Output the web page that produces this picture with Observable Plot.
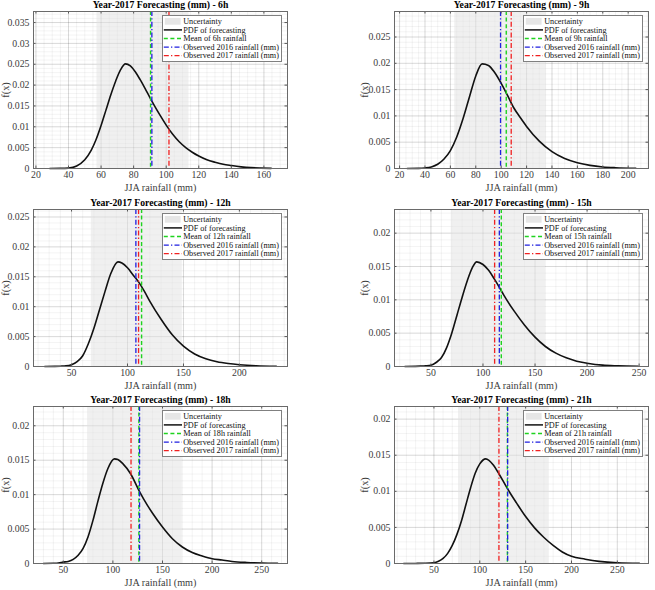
<!DOCTYPE html>
<html>
<head>
<meta charset="utf-8">
<script src="https://cdn.jsdelivr.net/npm/d3@7"></script>
<script src="https://cdn.jsdelivr.net/npm/@observablehq/plot@0.6"></script>
<style>
  html, body { margin: 0; padding: 0; background: #fff; }
  #figure { position: relative; width: 655px; height: 590px; overflow: hidden; background: #fff;
            font-family: "Liberation Serif", "Times New Roman", serif; }
  #figure svg.panel { position: absolute; background: transparent; }
  .legend { position: absolute; background: #fff; border: 1px solid #808080; box-sizing: border-box; }
  .legend svg { display: block; }
</style>
</head>
<body>
<div id="figure"></div>
<script>
// Forecast lead times
const hours = ["6h", "9h", "12h", "15h", "18h", "21h"];

// JJA rainfall (mm) and forecast probability density, one pair per lead time
const rain6h = [28.5, 35, 40, 45, 50, 54, 57, 60, 63, 66, 69, 72, 75, 78, 81, 84, 87, 90, 93, 96, 100, 104, 108, 112, 116, 120, 125, 130, 135, 140, 146, 152, 158, 164.5];
const pdf6h = [0, 0.00002, 0.0001, 0.0006, 0.0021, 0.0044, 0.0070, 0.0103, 0.0140, 0.0177, 0.0210, 0.0237, 0.0251, 0.0246, 0.0232, 0.0213, 0.0192, 0.0170, 0.0149, 0.0129, 0.0104, 0.0082, 0.0064, 0.0050, 0.0039, 0.0030, 0.0021, 0.0015, 0.0010, 0.0007, 0.0004, 0.0002, 0.0001, 0.00004];

const rain9h = [26, 35, 40, 45, 50, 55, 60, 65, 70, 75, 80, 85, 90, 95, 100, 105, 110, 115, 120, 130, 140, 150, 160, 170, 180, 190, 206];
const pdf9h = [0, 0.00002, 0.0001, 0.0003, 0.0008, 0.0018, 0.0034, 0.0060, 0.0095, 0.0136, 0.0176, 0.0199, 0.0196, 0.0182, 0.0162, 0.0139, 0.0115, 0.0097, 0.0080, 0.0052, 0.0032, 0.0019, 0.0011, 0.0006, 0.0003, 0.00015, 0.00004];

const rain12h = [26, 35, 40, 45, 50, 55, 60, 65, 70, 75, 80, 85, 91.5, 95, 100, 105, 110, 115, 120, 130, 140, 150, 160, 170, 180, 190, 200, 215, 233];
const pdf12h = [0, 0.00002, 0.00005, 0.0001, 0.0003, 0.0008, 0.0018, 0.0038, 0.0064, 0.0095, 0.0126, 0.0155, 0.0175, 0.0173, 0.0165, 0.0153, 0.0141, 0.0126, 0.0109, 0.0079, 0.0053, 0.0034, 0.0021, 0.0013, 0.0008, 0.0005, 0.0003, 0.00012, 0.00004];

const rain15h = [25, 35, 40, 45, 50, 55, 60, 65, 70, 75, 80, 85, 90, 94, 100, 105, 111, 116, 120, 130, 140, 150, 160, 170, 180, 190, 200, 215, 230, 249];
const pdf15h = [0, 0.00002, 0.00005, 0.0001, 0.0002, 0.0006, 0.0013, 0.0028, 0.0050, 0.0077, 0.0104, 0.0129, 0.0149, 0.0157, 0.0153, 0.0145, 0.0131, 0.0118, 0.0107, 0.0083, 0.0062, 0.0044, 0.0030, 0.0020, 0.0013, 0.0008, 0.0005, 0.0002, 0.0001, 0.00003];

const rain18h = [30, 40, 45, 50, 55, 60, 65, 70, 75, 80, 85, 90, 95, 101.5, 105, 110, 118, 127, 135, 140, 150, 160, 170, 180, 190, 200, 210, 220, 235, 250, 266];
const pdf18h = [0, 0.00003, 0.00007, 0.0002, 0.0003, 0.0006, 0.0012, 0.0022, 0.0039, 0.0063, 0.0091, 0.0117, 0.0138, 0.0152, 0.0151, 0.0145, 0.0130, 0.0104, 0.0084, 0.0073, 0.0053, 0.0036, 0.0024, 0.0016, 0.0011, 0.0007, 0.0005, 0.0003, 0.00015, 0.00007, 0.00003];

const rain21h = [17, 30, 40, 50, 55, 60, 65, 70, 75, 80, 85, 90, 95, 100, 106.5, 110, 115, 121, 130, 140, 150, 160, 170, 180, 190, 200, 215, 230, 250, 274];
const pdf21h = [0, 0.00001, 0.00003, 0.0001, 0.0003, 0.0007, 0.0014, 0.0025, 0.0040, 0.0059, 0.0082, 0.0105, 0.0125, 0.0138, 0.0145, 0.0143, 0.0136, 0.0124, 0.0104, 0.0084, 0.0065, 0.0049, 0.0036, 0.0025, 0.0016, 0.0010, 0.0006, 0.0003, 0.0001, 0.00003];

// Reference rainfall (mm) for each lead time
const meanRainfall = [90.4, 104, 112.6, 117.6, 126.2, 130.1];
const observed2016 = [91.2, 99.5, 107.5, 115.7, 126.9, 130.4];
const observed2017 = [101.7, 107.9, 109.9, 111.2, 118.3, 120.9];

// Uncertainty interval (mm)
const uncertaintyLow = [57.5, 63.5, 67.7, 69.5, 74.5, 76.8];
const uncertaintyHigh = [114, 135.5, 149, 160, 170, 175.8];

// Tick labels
const xTicks = [
  [20, 40, 60, 80, 100, 120, 140, 160],
  [20, 40, 60, 80, 100, 120, 140, 160, 180, 200],
  [50, 100, 150, 200],
  [50, 100, 150, 200, 250],
  [50, 100, 150, 200, 250],
  [50, 100, 150, 200, 250]
];
const yTicks = [
  [0, 0.005, 0.01, 0.015, 0.02, 0.025, 0.03, 0.035],
  [0, 0.005, 0.01, 0.015, 0.02, 0.025],
  [0, 0.005, 0.01, 0.015, 0.02, 0.025],
  [0, 0.005, 0.01, 0.015, 0.02],
  [0, 0.005, 0.01, 0.015, 0.02],
  [0, 0.005, 0.01, 0.015, 0.02]
];

const rains = [rain6h, rain9h, rain12h, rain15h, rain18h, rain21h];
const pdfs = [pdf6h, pdf9h, pdf12h, pdf15h, pdf18h, pdf21h];

// Layout of the 3 x 2 grid of axes
const W = 254, H = 157;
const M = {top: 14, right: 8, bottom: 26, left: 35};
const colLeft = [33, 394];
const rowTop = [11, 208.5, 406];
const yLabelOffset = [-27.5, -30];   // left column sits against the page edge

const GREEN = "#1fd31f", BLUE = "#1f1fe0", RED = "#f02020";
const DASH = "4,2.6";
const DASHDOT = "5,2.2,1.3,2.2";
const FONT = "Liberation Serif, Times New Roman, serif";

const figure = document.getElementById("figure");

function drawLegend(hour, left, top) {
  const w = 120, h = 47;
  const rows = [
    {label: "Uncertainty", patch: true},
    {label: "PDF of forecasting", stroke: "#111", width: 1.5},
    {label: `Mean of ${hour} rainfall`, stroke: GREEN, dash: DASH, width: 1.3},
    {label: "Observed 2016 rainfall (mm)", stroke: BLUE, dash: DASHDOT, width: 1.3},
    {label: "Observed 2017 rainfall (mm)", stroke: RED, dash: DASHDOT, width: 1.3}
  ];
  const div = document.createElement("div");
  div.className = "legend";
  Object.assign(div.style, {left: left + "px", top: top + "px", width: w + "px", height: h + "px"});
  const svg = d3.create("svg").attr("width", w - 2).attr("height", h - 2);
  rows.forEach((r, i) => {
    const cy = 5.3 + i * 8.6;
    if (r.patch) {
      svg.append("rect").attr("x", 1.8).attr("y", cy - 3.4).attr("width", 15.8).attr("height", 6.8).attr("fill", "#e6e6e6");
    } else {
      svg.append("line").attr("x1", 0.8).attr("x2", 19).attr("y1", cy).attr("y2", cy)
        .attr("stroke", r.stroke).attr("stroke-width", r.width).attr("stroke-dasharray", r.dash || null);
    }
    svg.append("text").attr("x", 20.2).attr("y", cy).attr("dy", "0.34em")
      .attr("font-family", FONT).attr("font-size", 8.2).attr("fill", "#111").text(r.label);
  });
  div.appendChild(svg.node());
  figure.appendChild(div);
}

hours.forEach((hour, i) => {
  const col = i % 2, row = Math.floor(i / 2);
  const left = colLeft[col];
  const top = rowTop[row];
  const xs = rains[i], ys = pdfs[i];
  const points = xs.map((r, j) => ({rain: r, density: ys[j]}));
  const xDomain = [d3.min(xs) - 10, d3.max(xs) + 10];
  const yDomain = [0, d3.max(ys) * 1.5];
  const xt = xTicks[i], yt = yTicks[i];
  const minorStep = (xt[1] - xt[0]) === 20 ? 5 : 10;
  const xMinor = d3.range(Math.ceil(xDomain[0] / minorStep) * minorStep, xDomain[1], minorStep);
  const yMinor = d3.range(0, yDomain[1], 0.001);

  const chart = Plot.plot({
    width: W + M.left + M.right,
    height: H + M.top + M.bottom,
    marginTop: M.top, marginRight: M.right, marginBottom: M.bottom, marginLeft: M.left,
    x: {domain: xDomain, label: null},
    y: {domain: yDomain, label: null},
    style: {fontFamily: FONT, background: "transparent", overflow: "visible"},
    marks: [
      // grid
      Plot.ruleX(xMinor, {stroke: "#262626", strokeOpacity: 0.05}),
      Plot.ruleY(yMinor, {stroke: "#262626", strokeOpacity: 0.05}),
      Plot.ruleX(xt, {stroke: "#262626", strokeOpacity: 0.13}),
      Plot.ruleY(yt, {stroke: "#262626", strokeOpacity: 0.13}),
      // uncertainty interval
      Plot.rect([{lo: uncertaintyLow[i], hi: uncertaintyHigh[i]}], {x1: "lo", x2: "hi", fill: "#e2e2e2", fillOpacity: 0.5}),
      // forecast PDF
      Plot.line(points, {x: "rain", y: "density", curve: "monotone-x", stroke: "#111", strokeWidth: 1.6}),
      // reference rainfall lines
      Plot.ruleX([meanRainfall[i]], {stroke: GREEN, strokeWidth: 1.4, strokeDasharray: DASH}),
      Plot.ruleX([observed2016[i]], {stroke: BLUE, strokeWidth: 1.3, strokeDasharray: DASHDOT}),
      Plot.ruleX([observed2017[i]], {stroke: RED, strokeWidth: 1.3, strokeDasharray: DASHDOT}),
      // inward tick marks on all four sides
      Plot.ruleX(xt, {insetTop: H - 2.5, stroke: "#555"}),
      Plot.ruleX(xt, {insetBottom: H - 2.5, stroke: "#555"}),
      Plot.ruleY(yt, {insetRight: W - 2.5, stroke: "#555"}),
      Plot.ruleY(yt, {insetLeft: W - 2.5, stroke: "#555"}),
      Plot.frame({stroke: "#6a6a6a"}),
      // axes
      Plot.axisX(xt, {tickSize: 0, tickPadding: 2.5, fontSize: 9.8, color: "#3c3c3c", label: null, tickFormat: d => String(d)}),
      Plot.axisY(yt, {tickSize: 0, tickPadding: 4, fontSize: 9.8, color: "#3c3c3c", label: null, tickFormat: d => String(d)}),
      // titles
      Plot.text([`Year-2017 Forecasting (mm) - ${hour}`], {frameAnchor: "top", textAnchor: "middle", lineAnchor: "middle", dy: -6.5, fontWeight: "bold", fontSize: 9.7, fill: "#000"}),
      Plot.text(["JJA rainfall (mm)"], {frameAnchor: "bottom", textAnchor: "middle", lineAnchor: "middle", dy: 19.5, fontSize: 10.2, fill: "#3c3c3c"}),
      Plot.text(["f(x)"], {frameAnchor: "left", textAnchor: "middle", lineAnchor: "middle", dx: yLabelOffset[col], rotate: -90, fontSize: 10.3, fill: "#3c3c3c"})
    ]
  });
  chart.classList.add("panel");
  chart.style.left = (left - M.left) + "px";
  chart.style.top = (top - M.top) + "px";
  figure.appendChild(chart);

  drawLegend(hour, left + W - 5 - 120, top + 4);
});
</script>
</body>
</html>
